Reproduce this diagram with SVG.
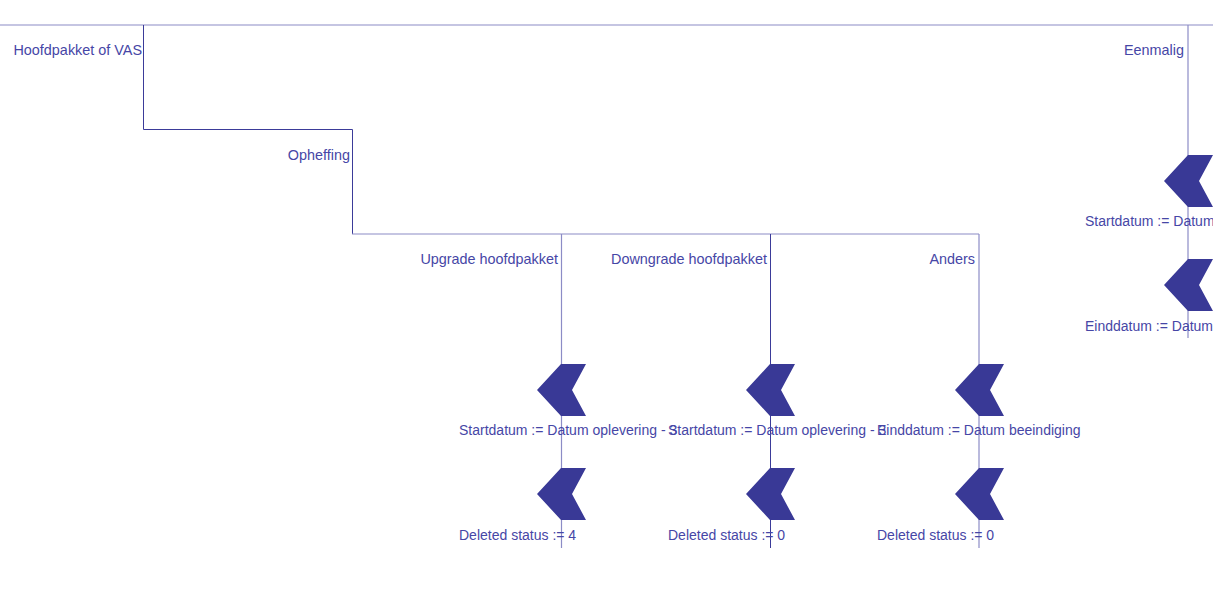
<svg xmlns="http://www.w3.org/2000/svg" width="1213" height="609" viewBox="0 0 1213 609">
<defs>
<style>
.ln{stroke:#3b3b99;stroke-width:1;fill:none}
.lt{stroke:#8c8cc6;stroke-width:1.2;fill:none}
.chev{fill:#393996}
text{font-family:"Liberation Sans",Arial,sans-serif;font-size:14px;fill:#4646a6}
.r{text-anchor:end;font-size:14.4px}
</style>
<polygon id="chev" class="chev" points="0,0 25,0 11,26 25,52 0,52 -24,26"/>
</defs>
<rect width="1213" height="609" fill="#ffffff"/>
<g id="connectors">
<line class="lt" x1="0" y1="25" x2="1213" y2="25"/>
<polyline class="ln" points="143.5,25 143.5,129.5 352.5,129.5 352.5,234"/>
<line class="lt" x1="352" y1="234" x2="979" y2="234"/>
<line class="lt" x1="561.5" y1="234" x2="561.5" y2="548"/>
<line class="ln" x1="770.5" y1="234" x2="770.5" y2="548"/>
<line class="lt" x1="979" y1="234" x2="979" y2="548"/>
<line class="lt" x1="1188" y1="25" x2="1188" y2="338"/>
</g>
<g id="label-hoofdpakket"><text class="r" x="142" y="55">Hoofdpakket of VAS</text></g>
<g id="label-eenmalig"><text class="r" x="1184" y="55">Eenmalig</text></g>
<g id="label-opheffing"><text class="r" x="350" y="160">Opheffing</text></g>
<g id="label-upgrade"><text class="r" x="558" y="264">Upgrade hoofdpakket</text></g>
<g id="label-downgrade"><text class="r" x="767" y="264">Downgrade hoofdpakket</text></g>
<g id="label-anders"><text class="r" x="975" y="264">Anders</text></g>
<g id="node-up-start"><use href="#chev" x="561" y="364"/><text x="459" y="435">Startdatum := Datum oplevering - 3</text></g>
<g id="node-up-del"><use href="#chev" x="561" y="468"/><text x="459" y="540">Deleted status := 4</text></g>
<g id="node-down-start"><use href="#chev" x="770" y="364"/><text x="668" y="435">Startdatum := Datum oplevering - 3</text></g>
<g id="node-down-del"><use href="#chev" x="770" y="468"/><text x="668" y="540">Deleted status := 0</text></g>
<g id="node-anders-eind"><use href="#chev" x="979" y="364"/><text x="877" y="435">Einddatum := Datum beeindiging</text></g>
<g id="node-anders-del"><use href="#chev" x="979" y="468"/><text x="877" y="540">Deleted status := 0</text></g>
<g id="node-eenmalig-start"><use href="#chev" x="1188" y="155"/><text x="1085" y="226">Startdatum := Datum</text></g>
<g id="node-eenmalig-eind"><use href="#chev" x="1188" y="259"/><text x="1085" y="331">Einddatum := Datum</text></g>
</svg>
